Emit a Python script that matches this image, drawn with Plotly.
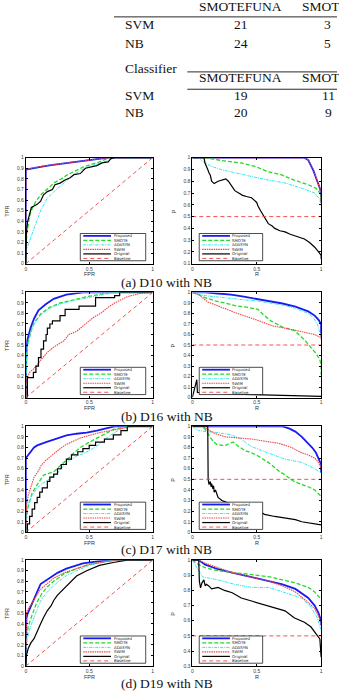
import plotly.graph_objects as go

W, H = 339, 693

METHODS = ["Proposed", "SMOTE", "ADASYN", "SWIM", "Original", "Baseline"]
CAPTIONS = ["(a) D10 with NB", "(b) D16 with NB", "(c) D17 with NB", "(d) D19 with NB"]
X_TICKS = [0, 0.5, 1]
X_TICK_TEXT = ["0", "0.5", "1"]
ROC_Y_TICKS = [0, 0.1, 0.2, 0.3, 0.4, 0.5, 0.6, 0.7, 0.8, 0.9, 1]
PR_Y_TICKS = [
    [0.1, 0.2, 0.3, 0.4, 0.5, 0.6, 0.7, 0.8, 0.9, 1],
    [0, 0.1, 0.2, 0.3, 0.4, 0.5, 0.6, 0.7, 0.8, 0.9, 1],
    [0, 0.1, 0.2, 0.3, 0.4, 0.5, 0.6, 0.7, 0.8, 0.9, 1],
    [0.3, 0.4, 0.5, 0.6, 0.7, 0.8, 0.9, 1],
]
PR_Y_RANGE_MIN = [0.1, 0.0, 0.0, 0.3]

# table
TABLE_ROW_LABELS = ["SVM", "NB"]
TABLE_COL_HEADERS = ["SMOTEFUNA", "SMOTE"]
TABLE1_COL1 = ["21", "24"]
TABLE1_COL2 = ["3", "5"]
TABLE2_COL1 = ["19", "20"]
TABLE2_COL2 = ["11", "9"]

BASELINE_ROC_X = [0, 1]
BASELINE_ROC_Y = [0, 1]
BASELINE_PR_X = [0, 1]
BASELINE_PR_Y = [0.5, 0.5]

# ---------------- D10 ----------------
D10_ROC_PROPOSED_X = [0, 0, 0.01, 0.05, 0.1, 0.15, 0.2, 0.3, 0.4, 0.5, 0.6, 0.65, 1]
D10_ROC_PROPOSED_Y = [0, 0.88, 0.89, 0.9, 0.91, 0.92, 0.93, 0.945, 0.96, 0.98, 0.99, 1, 1]
D10_ROC_SMOTE_X = [0, 0, 0.01, 0.03, 0.05, 0.08, 0.12, 0.17, 0.22, 0.28, 0.33, 0.4, 0.45, 0.5, 0.58, 0.66, 1]
D10_ROC_SMOTE_Y = [0, 0.15, 0.3, 0.45, 0.52, 0.59, 0.65, 0.71, 0.76, 0.8, 0.84, 0.88, 0.91, 0.93, 0.96, 1, 1]
D10_ROC_ADASYN_X = [0, 0, 0.01, 0.04, 0.065, 0.09, 0.12, 0.17, 0.25, 0.35, 0.43, 0.53, 0.64, 0.7, 1]
D10_ROC_ADASYN_Y = [0, 0.1, 0.15, 0.25, 0.34, 0.43, 0.51, 0.62, 0.71, 0.81, 0.88, 0.93, 0.97, 1, 1]
D10_ROC_SWIM_X = [0, 0, 0.01, 0.05, 0.1, 0.15, 0.2, 0.3, 0.4, 0.5, 0.6, 0.65, 1]
D10_ROC_SWIM_Y = [0, 0.885, 0.892, 0.903, 0.912, 0.922, 0.932, 0.947, 0.962, 0.978, 0.99, 1, 1]
D10_ROC_ORIGINAL_X = [0, 0.005, 0.015, 0.026, 0.044, 0.065, 0.09, 0.117, 0.13, 0.14, 0.17, 0.21, 0.23, 0.27,
                      0.31, 0.35, 0.38, 0.43, 0.47, 0.53, 0.56, 0.6, 0.65, 0.67, 0.7, 1]
D10_ROC_ORIGINAL_Y = [0, 0.3, 0.4, 0.45, 0.53, 0.545, 0.56, 0.59, 0.63, 0.65, 0.68, 0.7, 0.745, 0.76,
                      0.79, 0.81, 0.84, 0.85, 0.9, 0.92, 0.925, 0.95, 0.96, 0.99, 1, 1]

D10_PR_PROPOSED_X = [0, 0.87, 0.9, 0.92, 0.94, 0.96, 0.98, 0.99, 1, 1]
D10_PR_PROPOSED_Y = [1, 1, 0.98, 0.94, 0.89, 0.83, 0.78, 0.74, 0.7, 0.62]
D10_PR_SMOTE_X = [0, 0.08, 0.15, 0.26, 0.38, 0.49, 0.59, 0.69, 0.79, 0.9, 0.96, 0.99, 1]
D10_PR_SMOTE_Y = [1, 1, 0.99, 0.97, 0.955, 0.925, 0.88, 0.855, 0.81, 0.77, 0.74, 0.7, 0.64]
D10_PR_ADASYN_X = [0, 0.05, 0.08, 0.15, 0.23, 0.33, 0.46, 0.59, 0.72, 0.85, 0.95, 0.99, 1]
D10_PR_ADASYN_Y = [1, 1, 0.967, 0.925, 0.897, 0.87, 0.84, 0.81, 0.785, 0.74, 0.7, 0.645, 0.59]
D10_PR_SWIM_X = [0, 0.87, 0.9, 0.92, 0.94, 0.96, 0.98, 0.99, 1, 1]
D10_PR_SWIM_Y = [1, 1, 0.98, 0.945, 0.9, 0.835, 0.78, 0.74, 0.69, 0.6]
D10_PR_ORIGINAL_X = [0, 0.09, 0.1, 0.11, 0.12, 0.13, 0.14, 0.15, 0.17, 0.2, 0.23, 0.26, 0.28, 0.3, 0.33,
                     0.36, 0.39, 0.42, 0.46, 0.5, 0.51, 0.53, 0.55, 0.57, 0.59, 0.62, 0.64, 0.68, 0.72,
                     0.76, 0.79, 0.83, 0.87, 0.91, 0.95, 0.98, 1, 1]
D10_PR_ORIGINAL_Y = [1, 1, 0.95, 0.93, 0.9, 0.87, 0.85, 0.8, 0.78, 0.8, 0.81, 0.82, 0.8, 0.77, 0.72,
                     0.7, 0.68, 0.67, 0.66, 0.62, 0.59, 0.55, 0.51, 0.47, 0.44, 0.42, 0.4, 0.38, 0.37,
                     0.35, 0.34, 0.33, 0.31, 0.28, 0.24, 0.2, 0.17, 0.14]

# ---------------- D16 ----------------
D16_ROC_PROPOSED_X = [0, 0, 0.005, 0.013, 0.04, 0.065, 0.1, 0.16, 0.22, 0.32, 0.45, 1]
D16_ROC_PROPOSED_Y = [0, 0.3, 0.42, 0.55, 0.67, 0.75, 0.83, 0.89, 0.94, 0.98, 1, 1]
D16_ROC_SMOTE_X = [0, 0, 0.005, 0.013, 0.04, 0.065, 0.12, 0.19, 0.27, 0.38, 0.48, 0.58, 0.66, 1]
D16_ROC_SMOTE_Y = [0, 0.25, 0.38, 0.5, 0.63, 0.71, 0.8, 0.86, 0.9, 0.93, 0.96, 0.98, 1, 1]
D16_ROC_ADASYN_X = [0, 0, 0.005, 0.013, 0.04, 0.065, 0.12, 0.19, 0.27, 0.38, 0.48, 0.6, 0.7, 1]
D16_ROC_ADASYN_Y = [0, 0.22, 0.36, 0.48, 0.62, 0.7, 0.79, 0.85, 0.89, 0.925, 0.95, 0.98, 1, 1]
D16_ROC_SWIM_X = [0, 0.005, 0.01, 0.03, 0.06, 0.09, 0.12, 0.17, 0.22, 0.3, 0.34, 0.4, 0.47, 0.53,
                  0.6, 0.65, 0.7, 0.8, 0.9, 1]
D16_ROC_SWIM_Y = [0, 0.12, 0.18, 0.24, 0.27, 0.31, 0.36, 0.43, 0.48, 0.54, 0.6, 0.63, 0.7, 0.76,
                  0.81, 0.86, 0.9, 0.96, 0.99, 1]
D16_ROC_ORIGINAL_X = [0, 0.013, 0.05, 0.06, 0.08, 0.1, 0.12, 0.14, 0.16, 0.17, 0.19, 0.21, 0.26, 0.27,
                      0.31, 0.42, 0.55, 0.7, 0.74, 1]
D16_ROC_ORIGINAL_Y = [0, 0.19, 0.19, 0.24, 0.3, 0.38, 0.46, 0.54, 0.6, 0.66, 0.7, 0.73, 0.73, 0.78,
                      0.84, 0.87, 0.95, 0.97, 1, 1]

D16_PR_PROPOSED_X = [0, 0.05, 0.1, 0.2, 0.3, 0.4, 0.5, 0.6, 0.7, 0.8, 0.9, 0.95, 0.98, 1, 1]
D16_PR_PROPOSED_Y = [1, 1, 1, 0.99, 0.98, 0.96, 0.94, 0.92, 0.895, 0.865, 0.82, 0.78, 0.74, 0.7, 0.58]
D16_PR_SMOTE_X = [0, 0.05, 0.1, 0.175, 0.25, 0.33, 0.42, 0.51, 0.55, 0.61, 0.7, 0.79, 0.87, 0.92, 0.96,
                  0.99, 1, 1]
D16_PR_SMOTE_Y = [1, 0.98, 0.95, 0.92, 0.9, 0.875, 0.86, 0.84, 0.79, 0.73, 0.67, 0.64, 0.55, 0.48, 0.42,
                  0.36, 0.3, 0.22]
D16_PR_ADASYN_X = [0, 0.05, 0.1, 0.2, 0.3, 0.4, 0.5, 0.6, 0.7, 0.8, 0.9, 0.94, 0.97, 0.99, 1]
D16_PR_ADASYN_Y = [1, 0.98, 0.97, 0.955, 0.94, 0.93, 0.92, 0.9, 0.88, 0.85, 0.8, 0.76, 0.7, 0.62, 0.58]
D16_PR_SWIM_X = [0, 0.05, 0.12, 0.2, 0.33, 0.45, 0.54, 0.63, 0.72, 0.85, 0.95, 1, 1]
D16_PR_SWIM_Y = [1, 0.98, 0.91, 0.87, 0.81, 0.76, 0.72, 0.68, 0.66, 0.625, 0.6, 0.57, 0.55]
D16_PR_ORIGINAL_X = [0, 0.01, 0.03, 0.035, 0.04, 0.1, 0.2, 0.3, 0.4, 0.5, 0.6, 0.7, 0.8, 0.9, 1]
D16_PR_ORIGINAL_Y = [0, 0.05, 0.15, 0.17, 0.05, 0.045, 0.04, 0.035, 0.03, 0.028, 0.025, 0.022, 0.018,
                     0.015, 0.012]

# ---------------- D17 ----------------
D17_ROC_PROPOSED_X = [0, 0, 0.013, 0.04, 0.065, 0.09, 0.12, 0.16, 0.22, 0.32, 0.4, 0.48, 0.56, 0.64, 0.7, 1]
D17_ROC_PROPOSED_Y = [0, 0.7, 0.72, 0.76, 0.8, 0.82, 0.83, 0.85, 0.875, 0.915, 0.93, 0.94, 0.96, 0.985, 1, 1]
D17_ROC_SMOTE_X = [0, 0.005, 0.02, 0.05, 0.09, 0.14, 0.22, 0.27, 0.32, 0.38, 0.43, 0.5, 0.58, 0.69, 0.8, 1]
D17_ROC_SMOTE_Y = [0, 0.12, 0.25, 0.37, 0.45, 0.54, 0.57, 0.63, 0.68, 0.75, 0.8, 0.85, 0.9, 0.97, 1, 1]
D17_ROC_ADASYN_X = [0, 0.005, 0.02, 0.05, 0.09, 0.13, 0.17, 0.25, 0.32, 0.4, 0.45, 0.5, 0.58, 0.66, 0.74,
                    0.8, 1]
D17_ROC_ADASYN_Y = [0, 0.15, 0.27, 0.35, 0.42, 0.46, 0.49, 0.56, 0.66, 0.72, 0.74, 0.77, 0.83, 0.91, 0.97,
                    1, 1]
D17_ROC_SWIM_X = [0, 0.005, 0.02, 0.04, 0.065, 0.1, 0.12, 0.16, 0.2, 0.26, 0.32, 0.43, 0.58, 0.77, 0.85, 1]
D17_ROC_SWIM_Y = [0, 0.25, 0.35, 0.42, 0.52, 0.58, 0.63, 0.68, 0.72, 0.78, 0.83, 0.89, 0.94, 0.98, 1, 1]
D17_ROC_ORIGINAL_X = [0, 0.013, 0.03, 0.05, 0.07, 0.09, 0.11, 0.13, 0.17, 0.19, 0.22, 0.25, 0.28, 0.32,
                      0.36, 0.41, 0.45, 0.5, 0.55, 0.62, 0.69, 0.75, 0.8, 1]
D17_ROC_ORIGINAL_Y = [0, 0.08, 0.15, 0.22, 0.28, 0.33, 0.38, 0.42, 0.48, 0.52, 0.55, 0.6, 0.64, 0.69,
                      0.73, 0.76, 0.79, 0.82, 0.85, 0.88, 0.92, 0.96, 1, 1]

D17_PR_PROPOSED_X = [0, 0.7, 0.75, 0.8, 0.85, 0.9, 0.93, 0.96, 0.98, 1, 1]
D17_PR_PROPOSED_Y = [1, 1, 0.98, 0.95, 0.9, 0.84, 0.8, 0.75, 0.7, 0.64, 0.56]
D17_PR_SMOTE_X = [0, 0.08, 0.1, 0.13, 0.16, 0.19, 0.23, 0.26, 0.29, 0.32, 0.36, 0.41, 0.46, 0.51, 0.55,
                  0.59, 0.63, 0.67, 0.72, 0.79, 0.85, 0.9, 0.95, 1]
D17_PR_SMOTE_Y = [1, 1, 0.97, 0.91, 0.86, 0.83, 0.82, 0.82, 0.84, 0.85, 0.81, 0.77, 0.75, 0.72, 0.69,
                  0.66, 0.62, 0.58, 0.54, 0.48, 0.45, 0.43, 0.4, 0.34]
D17_PR_ADASYN_X = [0, 0.05, 0.08, 0.2, 0.3, 0.38, 0.42, 0.46, 0.52, 0.59, 0.65, 0.72, 0.85, 0.95, 1]
D17_PR_ADASYN_Y = [1, 0.96, 0.954, 0.94, 0.92, 0.88, 0.84, 0.81, 0.78, 0.75, 0.72, 0.69, 0.66, 0.6, 0.56]
D17_PR_SWIM_X = [0, 0.08, 0.12, 0.18, 0.26, 0.36, 0.46, 0.56, 0.67, 0.77, 0.85, 0.9, 0.95, 0.98, 1]
D17_PR_SWIM_Y = [1, 1, 0.97, 0.93, 0.9, 0.89, 0.88, 0.86, 0.84, 0.8, 0.75, 0.73, 0.7, 0.66, 0.6]
D17_PR_ORIGINAL_X = [0, 0.12, 0.123, 0.13, 0.14, 0.145, 0.15, 0.16, 0.165, 0.17, 0.18, 0.2, 0.23, 0.27,
                     0.33, 0.4, 0.46, 0.52, 0.56, 0.64, 0.72, 0.8, 0.85, 0.9, 0.95, 1]
D17_PR_ORIGINAL_Y = [1, 1, 0.5, 0.45, 0.48, 0.43, 0.46, 0.41, 0.44, 0.38, 0.4, 0.33, 0.3, 0.28,
                     0.26, 0.24, 0.23, 0.2, 0.17, 0.15, 0.135, 0.12, 0.1, 0.09, 0.08, 0.07]

# ---------------- D19 ----------------
D19_ROC_PROPOSED_X = [0, 0, 0.005, 0.013, 0.03, 0.05, 0.078, 0.1, 0.117, 0.15, 0.2, 0.25, 0.32, 0.4, 0.45,
                      0.58, 0.7, 1]
D19_ROC_PROPOSED_Y = [0, 0.35, 0.45, 0.49, 0.54, 0.59, 0.68, 0.73, 0.775, 0.8, 0.84, 0.88, 0.92, 0.95, 0.97,
                      0.99, 1, 1]
D19_ROC_SMOTE_X = [0, 0, 0.01, 0.02, 0.04, 0.06, 0.08, 0.1, 0.13, 0.17, 0.22, 0.3, 0.4, 0.5, 0.6, 0.7, 1]
D19_ROC_SMOTE_Y = [0, 0.2, 0.3, 0.38, 0.45, 0.52, 0.58, 0.63, 0.69, 0.75, 0.8, 0.87, 0.92, 0.96, 0.98, 1, 1]
D19_ROC_ADASYN_X = [0, 0, 0.01, 0.02, 0.04, 0.06, 0.08, 0.1, 0.13, 0.17, 0.22, 0.3, 0.4, 0.5, 0.6, 0.7, 1]
D19_ROC_ADASYN_Y = [0, 0.15, 0.24, 0.3, 0.38, 0.45, 0.52, 0.57, 0.64, 0.7, 0.76, 0.84, 0.9, 0.95, 0.98, 1, 1]
D19_ROC_SWIM_X = [0, 0, 0.005, 0.013, 0.03, 0.05, 0.078, 0.1, 0.13, 0.17, 0.22, 0.3, 0.4, 0.5, 0.6, 0.7, 1]
D19_ROC_SWIM_Y = [0, 0.4, 0.5, 0.53, 0.56, 0.6, 0.65, 0.7, 0.74, 0.78, 0.83, 0.88, 0.92, 0.96, 0.98, 1, 1]
D19_ROC_ORIGINAL_X = [0, 0.005, 0.02, 0.04, 0.065, 0.09, 0.117, 0.14, 0.17, 0.2, 0.22, 0.25, 0.3, 0.35,
                      0.4, 0.48, 0.58, 0.7, 0.8, 1]
D19_ROC_ORIGINAL_Y = [0, 0.1, 0.17, 0.22, 0.26, 0.32, 0.4, 0.46, 0.525, 0.57, 0.62, 0.67, 0.73, 0.79,
                      0.85, 0.9, 0.95, 0.98, 1, 1]

D19_PR_PROPOSED_X = [0, 0.05, 0.1, 0.2, 0.3, 0.4, 0.5, 0.6, 0.7, 0.8, 0.9, 0.95, 0.98, 1, 1]
D19_PR_PROPOSED_Y = [1, 1, 0.97, 0.94, 0.92, 0.9, 0.88, 0.86, 0.84, 0.81, 0.75, 0.7, 0.65, 0.6, 0.57]
D19_PR_SMOTE_X = [0, 0.05, 0.1, 0.2, 0.3, 0.4, 0.5, 0.6, 0.7, 0.8, 0.9, 0.95, 1]
D19_PR_SMOTE_Y = [1, 0.97, 0.95, 0.93, 0.92, 0.91, 0.9, 0.89, 0.87, 0.85, 0.82, 0.79, 0.74]
D19_PR_ADASYN_X = [0, 0.05, 0.08, 0.2, 0.33, 0.46, 0.59, 0.72, 0.85, 0.92, 0.97, 1]
D19_PR_ADASYN_Y = [1, 0.93, 0.89, 0.87, 0.84, 0.82, 0.82, 0.785, 0.75, 0.69, 0.62, 0.535]
D19_PR_SWIM_X = [0, 0.05, 0.1, 0.2, 0.3, 0.4, 0.5, 0.6, 0.7, 0.8, 0.9, 0.95, 0.98, 1]
D19_PR_SWIM_Y = [1, 1, 0.98, 0.95, 0.92, 0.9, 0.88, 0.86, 0.83, 0.79, 0.72, 0.68, 0.63, 0.57]
D19_PR_ORIGINAL_X = [0, 0.05, 0.055, 0.064, 0.075, 0.09, 0.1, 0.11, 0.128, 0.15, 0.2, 0.25, 0.31, 0.38,
                     0.46, 0.54, 0.64, 0.72, 0.79, 0.87, 0.92, 0.96, 0.99, 1]
D19_PR_ORIGINAL_Y = [1, 1, 0.86, 0.817, 0.85, 0.87, 0.83, 0.84, 0.83, 0.81, 0.82, 0.8, 0.785, 0.75,
                     0.73, 0.71, 0.69, 0.665, 0.62, 0.59, 0.56, 0.51, 0.48, 0.36]

# ---------- assemble ----------
ROC = [
    {"Proposed": (D10_ROC_PROPOSED_X, D10_ROC_PROPOSED_Y), "SMOTE": (D10_ROC_SMOTE_X, D10_ROC_SMOTE_Y),
     "ADASYN": (D10_ROC_ADASYN_X, D10_ROC_ADASYN_Y), "SWIM": (D10_ROC_SWIM_X, D10_ROC_SWIM_Y),
     "Original": (D10_ROC_ORIGINAL_X, D10_ROC_ORIGINAL_Y)},
    {"Proposed": (D16_ROC_PROPOSED_X, D16_ROC_PROPOSED_Y), "SMOTE": (D16_ROC_SMOTE_X, D16_ROC_SMOTE_Y),
     "ADASYN": (D16_ROC_ADASYN_X, D16_ROC_ADASYN_Y), "SWIM": (D16_ROC_SWIM_X, D16_ROC_SWIM_Y),
     "Original": (D16_ROC_ORIGINAL_X, D16_ROC_ORIGINAL_Y)},
    {"Proposed": (D17_ROC_PROPOSED_X, D17_ROC_PROPOSED_Y), "SMOTE": (D17_ROC_SMOTE_X, D17_ROC_SMOTE_Y),
     "ADASYN": (D17_ROC_ADASYN_X, D17_ROC_ADASYN_Y), "SWIM": (D17_ROC_SWIM_X, D17_ROC_SWIM_Y),
     "Original": (D17_ROC_ORIGINAL_X, D17_ROC_ORIGINAL_Y)},
    {"Proposed": (D19_ROC_PROPOSED_X, D19_ROC_PROPOSED_Y), "SMOTE": (D19_ROC_SMOTE_X, D19_ROC_SMOTE_Y),
     "ADASYN": (D19_ROC_ADASYN_X, D19_ROC_ADASYN_Y), "SWIM": (D19_ROC_SWIM_X, D19_ROC_SWIM_Y),
     "Original": (D19_ROC_ORIGINAL_X, D19_ROC_ORIGINAL_Y)},
]
PR = [
    {"Proposed": (D10_PR_PROPOSED_X, D10_PR_PROPOSED_Y), "SMOTE": (D10_PR_SMOTE_X, D10_PR_SMOTE_Y),
     "ADASYN": (D10_PR_ADASYN_X, D10_PR_ADASYN_Y), "SWIM": (D10_PR_SWIM_X, D10_PR_SWIM_Y),
     "Original": (D10_PR_ORIGINAL_X, D10_PR_ORIGINAL_Y)},
    {"Proposed": (D16_PR_PROPOSED_X, D16_PR_PROPOSED_Y), "SMOTE": (D16_PR_SMOTE_X, D16_PR_SMOTE_Y),
     "ADASYN": (D16_PR_ADASYN_X, D16_PR_ADASYN_Y), "SWIM": (D16_PR_SWIM_X, D16_PR_SWIM_Y),
     "Original": (D16_PR_ORIGINAL_X, D16_PR_ORIGINAL_Y)},
    {"Proposed": (D17_PR_PROPOSED_X, D17_PR_PROPOSED_Y), "SMOTE": (D17_PR_SMOTE_X, D17_PR_SMOTE_Y),
     "ADASYN": (D17_PR_ADASYN_X, D17_PR_ADASYN_Y), "SWIM": (D17_PR_SWIM_X, D17_PR_SWIM_Y),
     "Original": (D17_PR_ORIGINAL_X, D17_PR_ORIGINAL_Y)},
    {"Proposed": (D19_PR_PROPOSED_X, D19_PR_PROPOSED_Y), "SMOTE": (D19_PR_SMOTE_X, D19_PR_SMOTE_Y),
     "ADASYN": (D19_PR_ADASYN_X, D19_PR_ADASYN_Y), "SWIM": (D19_PR_SWIM_X, D19_PR_SWIM_Y),
     "Original": (D19_PR_ORIGINAL_X, D19_PR_ORIGINAL_Y)},
]
ROC_ORIGINAL_STEPPED = [False, True, True, False]

STYLE = {
    "Proposed": dict(color="#1a1af2", width=1.8, dash="solid"),
    "SMOTE": dict(color="#26d926", width=1.3, dash="4px,2px"),
    "ADASYN": dict(color="#2ee6ee", width=1.0, dash="3px,1px,1px,1px"),
    "SWIM": dict(color="#f04848", width=1.1, dash="1.5px,0.8px"),
    "Original": dict(color="#000000", width=1.2, dash="solid"),
    "Baseline": dict(color="#f04040", width=0.9, dash="4px,3px"),
}

# ---------- layout geometry (pixels) ----------
ROW_TOP = [156, 292, 427, 562]
ROW_BOT = [263, 398, 534, 669]
COL_LEFT = [25, 193]
COL_RIGHT = [153, 323]
CAPTION_Y = [282, 417, 551, 686]


def px(x):
    return x / W


def py(y):
    return 1 - y / H


fig = go.Figure()
layout = dict(width=W, height=H, margin=dict(l=0, r=0, t=0, b=0),
              paper_bgcolor="white", plot_bgcolor="white", showlegend=False)
shapes = []
annotations = []

TICKFONT = dict(family="Liberation Sans, Arial", size=5, color="#3a3a3a")

for r in range(4):
    for c in range(2):
        k = 2 * r + c + 1
        xa = "xaxis" if k == 1 else f"xaxis{k}"
        ya = "yaxis" if k == 1 else f"yaxis{k}"
        xr = "x" if k == 1 else f"x{k}"
        yr = "y" if k == 1 else f"y{k}"
        ymin = 0 if c == 0 else PR_Y_RANGE_MIN[r]
        yt = ROC_Y_TICKS if c == 0 else PR_Y_TICKS[r]
        common = dict(showline=True, mirror="ticks", linecolor="#000", linewidth=0.8,
                      ticks="inside", ticklen=2, tickwidth=0.5, tickcolor="#000",
                      showgrid=False, zeroline=False, tickfont=TICKFONT)
        layout[xa] = dict(domain=[px(COL_LEFT[c]), px(COL_RIGHT[c])], anchor=yr, range=[0, 1],
                          tickvals=X_TICKS, ticktext=X_TICK_TEXT, **common)
        layout[ya] = dict(domain=[py(ROW_BOT[r]), py(ROW_TOP[r])], anchor=xr, range=[ymin, 1],
                          tickvals=yt, ticktext=[("%g" % v) for v in yt], **common)

        data = ROC[r] if c == 0 else PR[r]
        for m in METHODS[:5]:
            xs, ys = data[m]
            st = STYLE[m]
            shape = "hv" if (c == 0 and m == "Original" and ROC_ORIGINAL_STEPPED[r]) else "linear"
            fig.add_trace(go.Scatter(x=xs, y=ys, mode="lines", xaxis=xr, yaxis=yr, name=m,
                                     line=dict(color=st["color"], width=st["width"], dash=st["dash"],
                                               shape=shape)))
        bx, by = (BASELINE_ROC_X, BASELINE_ROC_Y) if c == 0 else (BASELINE_PR_X, BASELINE_PR_Y)
        st = STYLE["Baseline"]
        fig.add_trace(go.Scatter(x=bx, y=by, mode="lines", xaxis=xr, yaxis=yr, name="Baseline",
                                 line=dict(color=st["color"], width=st["width"], dash=st["dash"])))

        # axis titles
        cx = (COL_LEFT[c] + COL_RIGHT[c]) / 2
        cy = (ROW_TOP[r] + ROW_BOT[r]) / 2
        annotations.append(dict(x=px(cx), y=py(ROW_BOT[r] + 10.5), xref="paper", yref="paper",
                                text="FPR" if c == 0 else "R", showarrow=False,
                                font=dict(family="Liberation Sans, Arial", size=5.5, color="#333"),
                                xanchor="center", yanchor="middle"))
        annotations.append(dict(x=px(6 if c == 0 else 174), y=py(cy), xref="paper", yref="paper",
                                text="TPR" if c == 0 else "P", showarrow=False, textangle=-90,
                                font=dict(family="Liberation Sans, Arial", size=5.5, color="#333"),
                                xanchor="center", yanchor="middle"))

        # manual legend box
        if c == 0:
            lx0, lx1 = COL_LEFT[c] + 55, COL_LEFT[c] + 121
        else:
            lx0, lx1 = COL_LEFT[c] + 7, COL_LEFT[c] + 71
        ly0, ly1 = ROW_BOT[r] - 30.5, ROW_BOT[r] - 3
        shapes.append(dict(type="rect", xref="paper", yref="paper", x0=px(lx0), x1=px(lx1),
                           y0=py(ly1), y1=py(ly0), line=dict(color="#000", width=0.7),
                           fillcolor="white", layer="above"))
        for i, m in enumerate(METHODS):
            yy = ly0 + 2.4 + i * 4.55
            st = STYLE[m]
            shapes.append(dict(type="line", xref="paper", yref="paper", x0=px(lx0 + 3), x1=px(lx0 + 31),
                               y0=py(yy), y1=py(yy), layer="above",
                               line=dict(color=st["color"], width=st["width"], dash=st["dash"])))
            annotations.append(dict(x=px(lx0 + 32.5), y=py(yy), xref="paper", yref="paper", text=m,
                                    showarrow=False, xanchor="left", yanchor="middle", borderpad=0,
                                    font=dict(family="DejaVu Sans, Liberation Sans", size=3.9, color="#222")))

    annotations.append(dict(x=px(167), y=py(CAPTION_Y[r]), xref="paper", yref="paper", text=CAPTIONS[r],
                            showarrow=False, xanchor="center", yanchor="middle", borderpad=0,
                            font=dict(family="Liberation Serif, Times New Roman", size=13.5, color="#111")))

# ---------- table ----------
SERIF = dict(family="Liberation Serif, Times New Roman", size=13.5, color="#111")


def text(x, y, s, anchor="left"):
    annotations.append(dict(x=px(x), y=py(y), xref="paper", yref="paper", text=s, showarrow=False,
                            xanchor=anchor, yanchor="middle", font=SERIF))


def hline(x0, x1, y):
    shapes.append(dict(type="line", xref="paper", yref="paper", x0=px(x0), x1=px(x1), y0=py(y), y1=py(y),
                       line=dict(color="#111", width=0.9)))


text(123, -8, "Classifier")
text(242, 4, TABLE_COL_HEADERS[0], "center")
text(302, 4, TABLE_COL_HEADERS[1])
hline(114, 339, 14)
for i, lab in enumerate(TABLE_ROW_LABELS):
    yy = [22, 41][i]
    text(123, yy, lab)
    text(242, yy, TABLE1_COL1[i], "center")
    text(329, yy, TABLE1_COL2[i], "center")
text(123, 66, "Classifier")
hline(188, 339, 69.5)
text(242, 75, TABLE_COL_HEADERS[0], "center")
text(302, 75, TABLE_COL_HEADERS[1])
hline(188, 339, 87)
for i, lab in enumerate(TABLE_ROW_LABELS):
    yy = [93, 110][i]
    text(123, yy, lab)
    text(242, yy, TABLE2_COL1[i], "center")
    text(330, yy, TABLE2_COL2[i], "center")

layout["shapes"] = shapes
layout["annotations"] = annotations
fig.update_layout(**layout)
fig.write_html("out.html")
